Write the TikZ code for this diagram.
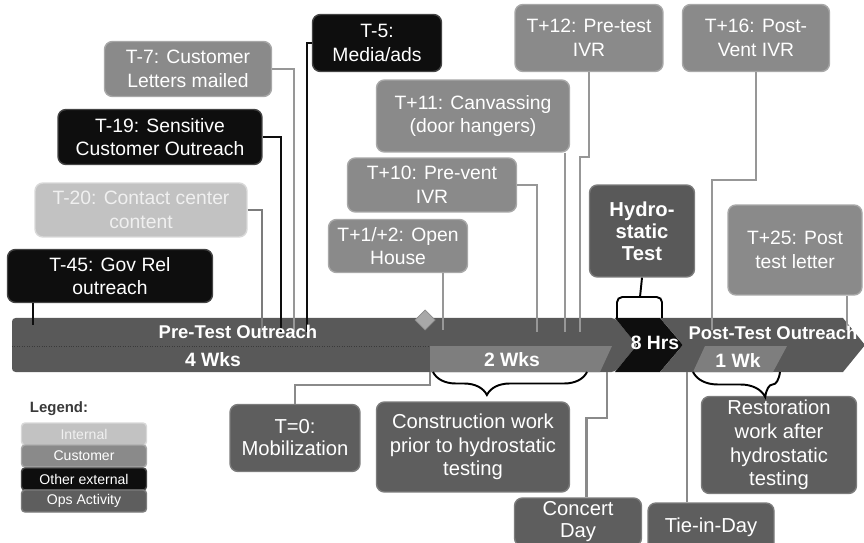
\documentclass[tikz,border=0pt]{standalone}
\usepackage{fontspec}
\setmainfont{Liberation Sans}
\usepackage{xcolor}
\usepackage{tikz}
\usetikzlibrary{positioning,calc,decorations.pathreplacing}
\definecolor{custfill}{HTML}{8A8A8A}
\definecolor{custline}{HTML}{A8A8A8}
\definecolor{extfill}{HTML}{0E0E0E}
\definecolor{extline}{HTML}{444444}
\definecolor{intfill}{HTML}{C2C2C2}
\definecolor{intline}{HTML}{D8D8D8}
\definecolor{inttext}{HTML}{F0F0F0}
\definecolor{opsfill}{HTML}{5E5E5E}
\definecolor{opsline}{HTML}{7C7C7C}
\definecolor{bandfill}{HTML}{595959}
\definecolor{bandlight}{HTML}{7E7E7E}
\definecolor{legendfg}{HTML}{3A3A3A}
\tikzset{
    custbox/.style={
        draw=custline, fill=custfill, text=white, line width=0.8pt,
        rounded corners=4.5pt, inner sep=2pt,
        font=\fontsize{11}{13.5}\selectfont, align=center
    },
    extbox/.style={
        custbox, draw=extline, fill=extfill
    },
    intbox/.style={
        custbox, draw=intline, fill=intfill, text=inttext
    },
    opsbox/.style={
        custbox, draw=opsline, fill=opsfill,
        font=\fontsize{11.5}{13.5}\selectfont
    },
    hydrobox/.style={
        opsbox, fill=bandfill, font=\bfseries\fontsize{11.5}{12.5}\selectfont
    },
    legbox/.style={
        minimum width=2.5cm, minimum height=0.44cm, inner sep=0pt,
        rounded corners=2pt, font=\fontsize{8}{9}\selectfont
    },
    bandtext/.style={text=white, inner sep=0pt, font=\bfseries\fontsize{10.5}{12}\selectfont},
    custlink/.style={draw=custline!90!black, line width=1.5pt},
    extlink/.style={draw=extfill, line width=1.5pt},
    intlink/.style={draw=opsline, line width=1.5pt},
    opslink/.style={draw=custfill, line width=1.5pt},
    bracelink/.style={draw=black, line width=1.1pt},
}
\begin{document}
\begin{tikzpicture}[x=0.02cm, y=-0.02cm, every node/.style={align=center}]
    \useasboundingbox (0,0) rectangle (864,543);
    \clip (0,0) rectangle (864,543);
    \fill[bandfill, rounded corners=2pt] (12,318) -- (615,318) -- (637,345) -- (615,372) -- (12,372) -- cycle;
    \fill[extfill] (615,318) -- (660,318) -- (683,345) -- (660,372) -- (615,372) -- (637,345) -- cycle;
    \fill[bandfill] (660,318) -- (843,318) -- (865,345) -- (843,372) -- (660,372) -- (683,345) -- cycle;
    \fill[bandlight] (430,346) -- (612,346) -- (600,372) -- (430,372) -- cycle;
    \fill[bandlight] (705,346) -- (787,346) -- (773,372) -- (693,372) -- cycle;
    \draw[densely dotted, legendfg] (12,346) -- (430,346);
    \filldraw[fill=custline, draw=custfill] (425,310) -- (435,320) -- (425,330) -- (415,320) -- cycle;

    \node[custbox, minimum width=3.34cm, minimum height=1.10cm] (t7) at (188,69) {T-7: Customer\\Letters mailed};
    \node[extbox, minimum width=4.08cm, minimum height=1.10cm] (t19) at (160,137) {T-19: Sensitive\\Customer Outreach};
    \node[intbox, minimum width=4.24cm, minimum height=1.08cm] (t20) at (141,210) {T-20: Contact center\\content};
    \node[extbox, minimum width=4.10cm, minimum height=1.06cm] (t45) at (110,276) {T-45: Gov Rel\\outreach};
    \node[extbox, minimum width=2.58cm, minimum height=1.14cm] (t5) at (377,43) {T-5:\\Media/ads};
    \node[custbox, minimum width=2.96cm, minimum height=1.34cm] (t12) at (589,38) {T+12: Pre-test\\IVR};
    \node[custbox, minimum width=2.94cm, minimum height=1.34cm] (t16) at (756,38) {T+16: Post-\\Vent IVR};
    \node[custbox, minimum width=3.86cm, minimum height=1.44cm] (t11) at (473,116) {T+11: Canvassing\\(door hangers)};
    \node[custbox, minimum width=3.38cm, minimum height=1.08cm] (t10) at (432,185) {T+10: Pre-vent\\IVR};
    \node[custbox, minimum width=2.78cm, minimum height=1.06cm] (t1) at (398,246) {T+1/+2: Open\\House};
    \node[hydrobox, minimum width=2.10cm, minimum height=1.84cm] (hydro) at (642,231) {Hydro-\\static\\Test};
    \node[custbox, minimum width=2.68cm, minimum height=1.80cm] (t25) at (795,250) {T+25: Post\\test letter};
    \node[opsbox, minimum width=2.60cm, minimum height=1.34cm, font=\fontsize{11.5}{12.5}\selectfont] (t0) at (295,438) {T=0:\\Mobilization};
    \node[opsbox, minimum width=3.86cm, minimum height=1.80cm] (constr) at (473,447) {Construction work\\prior to hydrostatic\\testing};
    \node[opsbox, minimum width=3.10cm, minimum height=1.90cm] (restor) at (779,445) {Restoration\\work after\\hydrostatic\\testing};
    \node[opsbox, minimum width=2.54cm, minimum height=0.96cm, font=\fontsize{11.5}{12.5}\selectfont] (concert) at (578,522) {Concert\\Day};
    \node[opsbox, minimum width=2.52cm, minimum height=0.96cm] (tiein) at (711,527) {Tie-in-Day};

    \node[font=\bfseries\fontsize{8.5}{10}\selectfont, text=legendfg] (legend) at (59,409) {Legend:};
    \node[intbox, legbox] (legint) at (84,434) {Internal};
    \node[custbox, legbox] (legcust) at (84,456) {Customer};
    \node[extbox, legbox] (legext) at (84,479) {Other external};
    \node[opsbox, legbox] (legops) at (84,501) {Ops Activity};

    \coordinate (d7) at (294,332);
    \coordinate (d19) at (281,332);
    \coordinate (d20) at (262,332);
    \coordinate (d5) at (307,332);
    \coordinate (d45) at (33,325);
    \coordinate (k12) at (580,157);
    \coordinate (d12) at (580,332);
    \coordinate (k16) at (712,180);
    \coordinate (d16) at (712,330);
    \coordinate (d11) at (565,332);
    \coordinate (d10) at (537,332);
    \coordinate (d1) at (443,330);
    \coordinate (d25) at (847,330);
    \coordinate (k0) at (430,385);
    \coordinate (d0) at (430,372);
    \coordinate (kc) at (607,418);
    \coordinate (dc) at (607,372);
    \coordinate (dt) at (687,372);
    \coordinate (hyk) at (640,297);
    \coordinate (hyl) at (617,318);
    \coordinate (hyr) at (662,318);

    \draw[custlink] (t7.east) -| (d7);
    \draw[extlink] (t19.east) -| (d19);
    \draw[intlink] (t20.east) -| (d20);
    \draw[extlink] (t5.west) -| (d5);
    \draw[extlink] (d45 |- t45.south) -- (d45);
    \draw[custlink] (t12.south) |- (k12) -- (d12);
    \draw[custlink] (t16.south) |- (k16) -- (d16);
    \draw[custlink] (d11 |- t11.south) -- (d11);
    \draw[custlink] (t10.east) -| (d10);
    \draw[custlink] (d1 |- t1.south) -- (d1);
    \draw[custlink] (d25 |- t25.south) -- (d25);
    \draw[opslink] (t0.north) |- (k0) -- (d0);
    \draw[opslink] ([xshift=0.17cm]concert.north) |- (kc) -- (dc);
    \draw[opslink] (dt |- tiein.north) -- (dt);
    \draw[bracelink] (hydro.south) -- (hyk);
    \draw[bracelink, rounded corners=3pt] (hyl) |- (hyk) -| (hyr);
    \draw[bracelink, decorate, decoration={brace, mirror, amplitude=0.46cm, aspect=0.35}] (433,372) -- (587,372);
    \draw[bracelink, decorate, decoration={brace, mirror, amplitude=0.5cm, aspect=0.83}] (693,372) -- (780,372);

    \node[bandtext] (pretest) at (238,332) {Pre-Test Outreach};
    \node[bandtext, font=\bfseries\fontsize{11}{12}\selectfont] (wks4) at (213,360) {4 Wks};
    \node[bandtext, font=\bfseries\fontsize{11}{12}\selectfont] (wks2) at (512,360) {2 Wks};
    \node[bandtext, font=\bfseries\fontsize{11}{12}\selectfont] (hrs8) at (655,343) {8 Hrs};
    \node[bandtext] (posttest) at (773,333) {Post-Test Outreach};
    \node[bandtext, font=\bfseries\fontsize{11}{12}\selectfont] (wk1) at (738,360) {1 Wk};
\end{tikzpicture}
\end{document}
